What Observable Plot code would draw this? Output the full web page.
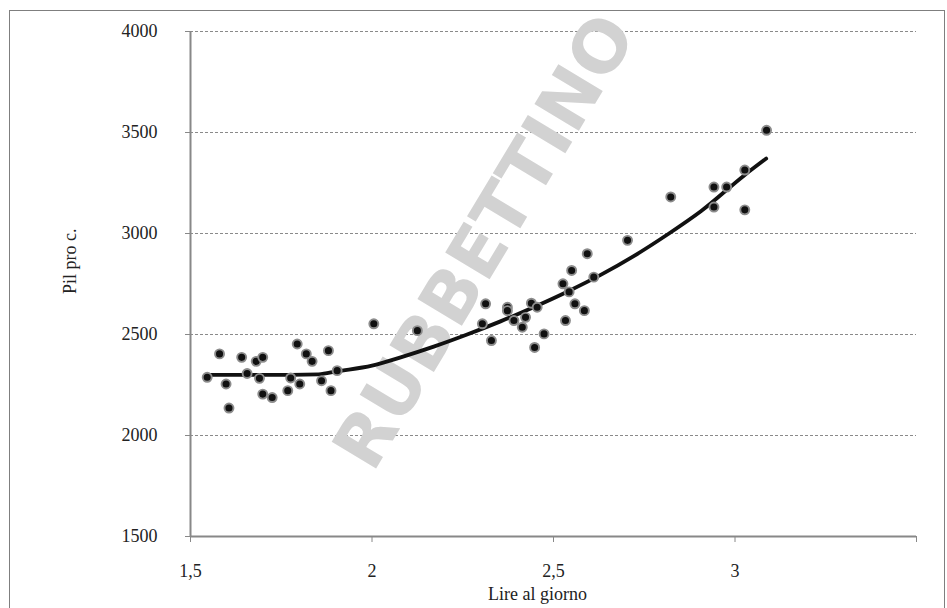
<!DOCTYPE html>
<html>
<head>
<meta charset="utf-8">
<script src="https://cdn.jsdelivr.net/npm/d3@7"></script>
<script src="https://cdn.jsdelivr.net/npm/@observablehq/plot@0.6"></script>
<style>
  html, body { margin: 0; padding: 0; background: #fff; overflow: hidden; }
  #wrap { position: relative; width: 947px; height: 608px; }
  #frame { position: absolute; left: 9px; top: 10px; width: 936px; height: 700px;
           border: 1.5px solid #7f7f7f; box-sizing: border-box; }
  #chart { position: absolute; left: 0; top: 0; }
</style>
</head>
<body>
<div id="wrap"><div id="frame"></div><div id="chart"></div></div>
<script>
// Lire al giorno (x) and Pil pro capite (y)
const lire = [1.546, 1.580, 1.598, 1.606, 1.641, 1.656, 1.681, 1.699, 1.690, 1.699,
              1.725, 1.768, 1.776, 1.794, 1.801, 1.819, 1.835, 1.861, 1.880, 1.887,
              1.904, 2.005, 2.125, 2.313, 2.304, 2.329, 2.373, 2.373, 2.391, 2.414,
              2.423, 2.439, 2.455, 2.448, 2.474, 2.533, 2.526, 2.550, 2.543, 2.559,
              2.585, 2.593, 2.611, 2.704, 2.823, 2.942, 2.977, 2.942, 3.027, 3.027, 3.087];
const pil  = [2288, 2404, 2255, 2136, 2387, 2307, 2367, 2387, 2283, 2205,
              2188, 2222, 2285, 2453, 2255, 2404, 2367, 2271, 2420, 2222,
              2321, 2553, 2519, 2652, 2553, 2470, 2635, 2618, 2569, 2536,
              2585, 2655, 2635, 2436, 2503, 2569, 2751, 2817, 2711, 2652,
              2618, 2900, 2784, 2966, 3181, 3230, 3230, 3131, 3314, 3117, 3511];

// Trend line as drawn in the picture
const trendX = [1.546, 1.70, 1.853, 1.904, 2.0, 2.079, 2.170, 2.262, 2.354, 2.445,
                2.538, 2.630, 2.721, 2.814, 2.906, 3.027, 3.086];
const trendY = [2300, 2300, 2303, 2318, 2346, 2387, 2440, 2500, 2565, 2635,
                2712, 2795, 2888, 2995, 3110, 3290, 3371];

// Axes
const xTicks = [1.5, 2, 2.5, 3, 3.5];
const xTickLabels = ["1,5", "2", "2,5", "3", ""];
const yTicks = [1500, 2000, 2500, 3000, 3500, 4000];
const yTickLabels = ["1500", "2000", "2500", "3000", "3500", "4000"];
const gridValues = [2000, 2500, 3000, 3500, 4000];
const xLabel = "Lire al giorno";
const yLabel = "Pil pro c.";
const watermark = "RUBBETTINO";

const points = lire.map((x, i) => ({x, y: pil[i]}));
const trend = trendX.map((x, i) => ({x, y: trendY[i]}));

const chart = Plot.plot({
  width: 947,
  height: 608,
  marginLeft: 190,
  marginRight: 31,
  marginTop: 31,
  marginBottom: 72,
  x: {domain: [1.5, 3.5]},
  y: {domain: [1500, 4000]},
  style: {fontFamily: "'Liberation Serif', 'DejaVu Serif', serif", fontSize: "18px", color: "#222", background: "transparent"},
  marks: [
    Plot.gridY(gridValues, {stroke: "#8a8a8a", strokeOpacity: 1, strokeWidth: 1, strokeDasharray: "3,2"}),
    Plot.text([watermark], {frameAnchor: "middle", dx: -68, dy: -42, rotate: -59,
      fontFamily: "'DejaVu Sans', sans-serif", fontWeight: "bold", fontSize: 71,
      fill: "#d2d2d2", textAnchor: "middle", lineAnchor: "middle"}),
    Plot.ruleX([1.5], {stroke: "#888", strokeWidth: 2}),
    Plot.ruleY([1500], {stroke: "#888", strokeWidth: 2}),
    Plot.axisY({ticks: yTicks, tickSize: 5, tickPadding: 28, stroke: "#888", fill: "#222",
      tickFormat: (d) => yTickLabels[yTicks.indexOf(d)], label: null}),
    Plot.axisX({ticks: xTicks, tickSize: 6, tickPadding: 22, stroke: "#888", fill: "#222",
      tickFormat: (d) => xTickLabels[xTicks.indexOf(d)], label: null}),
    Plot.line(trend, {x: "x", y: "y", stroke: "#111", strokeWidth: 3.8, curve: "monotone-x"}),
    Plot.dot(points, {x: "x", y: "y", r: 4.5, fill: "#111", stroke: "#8c8c8c", strokeWidth: 1.9}),
    Plot.text([xLabel], {frameAnchor: "bottom", dx: -16, dy: 58, fill: "#222", lineAnchor: "middle"}),
    Plot.text([yLabel], {frameAnchor: "left", dx: -120, dy: 10, rotate: -90, fill: "#222", lineAnchor: "middle"})
  ]
});
document.getElementById("chart").appendChild(chart);
</script>
</body>
</html>
